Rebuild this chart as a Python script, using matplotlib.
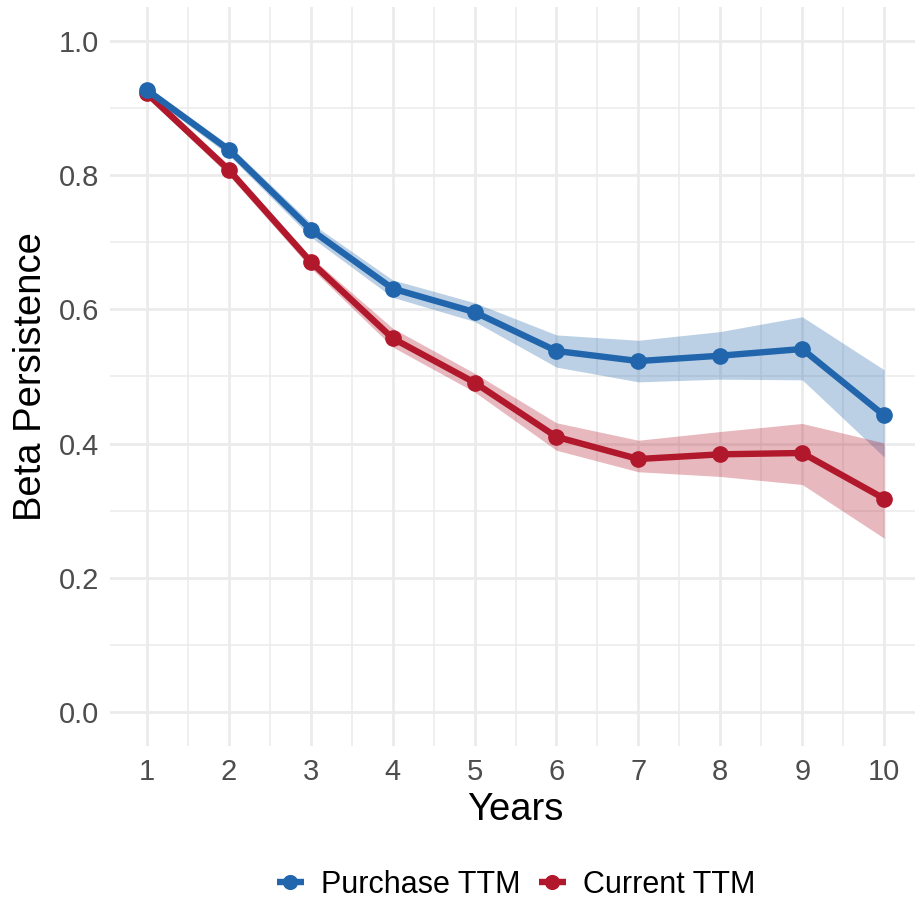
import numpy as np
import matplotlib.pyplot as plt
from matplotlib.ticker import MultipleLocator

plt.rcParams['font.family'] = ['Liberation Sans', 'DejaVu Sans']

# beta persistence by horizon, with confidence bands
years = [1, 2, 3, 4, 5, 6, 7, 8, 9, 10]

purchase_mean = [0.927, 0.838, 0.719, 0.631, 0.596, 0.538, 0.523, 0.531, 0.541, 0.442]
purchase_low = [0.921, 0.830, 0.708, 0.618, 0.582, 0.514, 0.492, 0.496, 0.495, 0.380]
purchase_high = [0.933, 0.845, 0.729, 0.644, 0.610, 0.562, 0.554, 0.567, 0.589, 0.510]

current_mean = [0.922, 0.808, 0.671, 0.557, 0.491, 0.410, 0.377, 0.384, 0.386, 0.318]
current_low = [0.917, 0.800, 0.662, 0.544, 0.477, 0.390, 0.358, 0.351, 0.339, 0.259]
current_high = [0.927, 0.814, 0.678, 0.572, 0.505, 0.431, 0.405, 0.418, 0.430, 0.401]

blue = '#2166AC'
red = '#B2182B'

fig = plt.figure(figsize=(9.15, 9.05), dpi=100)
ax = fig.add_axes([110 / 915, 1 - 745.5 / 905, 811 / 915, 738 / 905])

# ribbons underneath, then lines
ax.fill_between(years, purchase_low, purchase_high, color=blue, alpha=0.3, lw=0, zorder=2)
ax.fill_between(years, current_low, current_high, color=red, alpha=0.3, lw=0, zorder=2)
ax.plot(years, current_mean, color=red, lw=4.6, marker='o', ms=11,
        solid_capstyle='butt', label='Current TTM', zorder=3)
ax.plot(years, purchase_mean, color=blue, lw=4.6, marker='o', ms=11,
        solid_capstyle='butt', label='Purchase TTM', zorder=4)

ax.set_xlim(0.55, 10.45)
ax.set_ylim(-0.05, 1.05)
ax.set_xticks(years)
ax.set_yticks([0.0, 0.2, 0.4, 0.6, 0.8, 1.0])
ax.set_yticklabels(['0.0', '0.2', '0.4', '0.6', '0.8', '1.0'])
ax.xaxis.set_minor_locator(MultipleLocator(0.5))
ax.yaxis.set_minor_locator(MultipleLocator(0.1))

ax.grid(which='major', color='#EBEBEB', lw=2.0, zorder=0)
ax.grid(which='minor', color='#EBEBEB', lw=1.1, zorder=0)
ax.set_axisbelow(True)
for s in ax.spines.values():
    s.set_visible(False)
ax.tick_params(which='both', length=0, labelsize=21, labelcolor='#4D4D4D')
ax.tick_params(axis='x', pad=9)
ax.tick_params(axis='y', pad=8)

ax.set_xlabel('Years', fontsize=27.5, color='black', labelpad=4)
ax.set_ylabel('Beta Persistence', fontsize=27.5, color='black', labelpad=7)

handles, labels = ax.get_legend_handles_labels()
fig.legend(handles[::-1], labels[::-1], loc='center', bbox_to_anchor=(516 / 915, 1 - 885 / 905),
           ncol=2, frameon=False, fontsize=22, handlelength=0.9, handletextpad=0.55,
           columnspacing=0.6, markerscale=0.9)

fig.savefig('out.png', dpi=100, facecolor='white')
